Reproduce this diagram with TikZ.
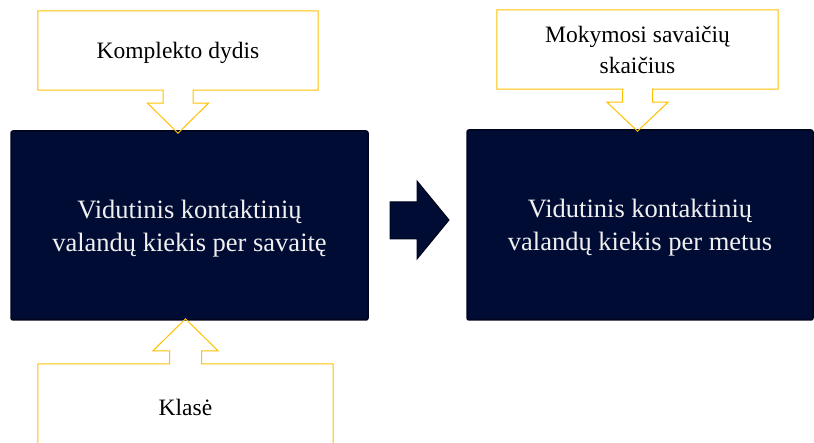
\documentclass[tikz,border=0pt]{standalone}
\usepackage{fontspec}
\setmainfont{Liberation Serif}
\usetikzlibrary{calc}
\definecolor{tamsi}{RGB}{1,12,52}
\definecolor{krastas}{RGB}{0,5,28}
\definecolor{geltona}{RGB}{255,192,0}
\tikzset{
  blokas/.style={rectangle, rounded corners=2pt, fill=tamsi, draw=krastas, line width=1.5pt,
    text=white!94!black, align=center, text depth=-2pt, font=\fontsize{26.5}{33}\selectfont},
  laukas/.style={rectangle, align=center, text depth=0pt, font=\fontsize{23.5}{31}\selectfont},
  remas/.style={draw=geltona, line width=1pt}
}
\begin{document}
\begin{tikzpicture}[x=1pt, y=-1pt]
\useasboundingbox (0,0) rectangle (814,443);

% pagrindiniai blokai
\node[blokas, minimum width=357pt, minimum height=189pt] (savaite) at (189.5,225.5)
    {Vidutinis kontaktinių\\valandų kiekis per savaitę};
\node[blokas, minimum width=346pt, minimum height=190pt] (metai) at (640,225)
    {Vidutinis kontaktinių\\valandų kiekis per metus};

% rodykle tarp bloku
\fill[tamsi, draw=krastas, line width=1pt] (390,202)--(417,202)--(417,181)--(449,220)
    --(417,259)--(417,239)--(390,239)--cycle;

% geltoni laukai
\node[laukas, minimum width=280pt, minimum height=79pt] (komplektas) at (178,50.5) {Komplekto dydis};
\draw[remas] (komplektas.south) ++(-15,0) -- ++(0,13) -- ++(-15.5,0) -- ++(30.5,30)
    -- ++(30.5,-30) -- ++(-15.5,0) -- ++(0,-13) -- (komplektas.south east)
    -- (komplektas.north east) -- (komplektas.north west) -- (komplektas.south west) -- cycle;

\node[laukas, minimum width=281pt, minimum height=79pt] (savaites) at (637.5,49.5)
    {Mokymosi savaičių\\skaičius};
\draw[remas] (savaites.south) ++(-15,0) -- ++(0,13) -- ++(-15.5,0) -- ++(30.5,29)
    -- ++(30.5,-29) -- ++(-15.5,0) -- ++(0,-13) -- (savaites.south east)
    -- (savaites.north east) -- (savaites.north west) -- (savaites.south west) -- cycle;

\node[laukas, minimum width=295pt, minimum height=86pt] (klase) at (185.5,407) {Klasė};
\draw[remas] (klase.north) ++(-16,0) -- ++(0,-13) -- ++(-16.5,0) -- ++(32.5,-32)
    -- ++(32.5,32) -- ++(-16.5,0) -- ++(0,13) -- (klase.north east)
    -- (klase.south east) -- (klase.south west) -- (klase.north west) -- cycle;
\end{tikzpicture}
\end{document}
